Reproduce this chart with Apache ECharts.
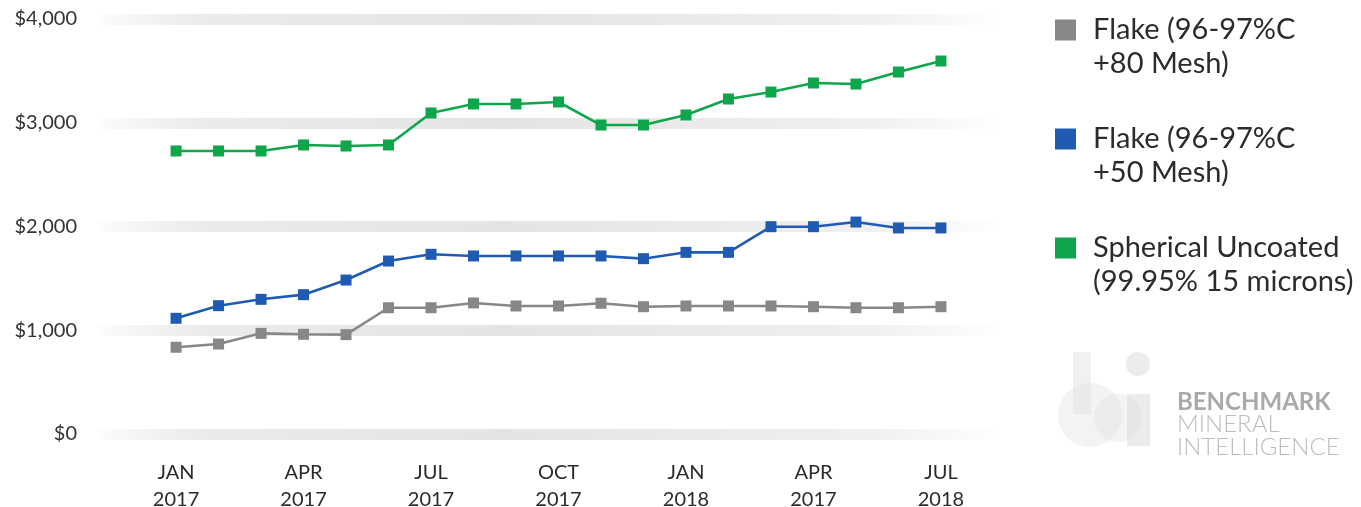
<!DOCTYPE html>
<html>
<head>
<meta charset="utf-8">
<script src="https://cdn.jsdelivr.net/npm/echarts@6/dist/echarts.min.js"></script>
<style>
html,body{margin:0;padding:0;background:#fff;}
#chart{width:1361px;height:507px;}
</style>
</head>
<body>
<div id="chart"></div>
<script>
const categories = ['2017-01','2017-02','2017-03','2017-04','2017-05','2017-06','2017-07','2017-08','2017-09','2017-10','2017-11','2017-12','2018-01','2018-02','2018-03','2018-04','2018-05','2018-06','2018-07'];
const tickLabels = {'2017-01':'JAN\n2017','2017-04':'APR\n2017','2017-07':'JUL\n2017','2017-10':'OCT\n2017','2018-01':'JAN\n2018','2018-04':'APR\n2017','2018-07':'JUL\n2018'};
const yTicks = [0, 1000, 2000, 3000, 4000];
const seriesNames = ['Flake (96-97%C\n+80 Mesh)', 'Flake (96-97%C\n+50 Mesh)', 'Spherical Uncoated\n(99.95% 15 microns)'];
const flake80 = [836, 867, 970, 961, 958, 1217, 1217, 1263, 1234, 1234, 1260, 1227, 1234, 1234, 1234, 1227, 1217, 1217, 1227];
const flake50 = [1115, 1237, 1298, 1343, 1484, 1667, 1732, 1716, 1716, 1716, 1716, 1690, 1751, 1751, 1998, 1998, 2043, 1986, 1986];
const spherical = [2728, 2728, 2728, 2786, 2776, 2786, 3094, 3181, 3181, 3200, 2978, 2978, 3075, 3229, 3296, 3383, 3373, 3489, 3595];
const colors = ['#878787', '#1f5bb3', '#0da64a'];

const chart = echarts.init(document.getElementById('chart'), null, {renderer: 'canvas'});
const font = 'Lato, "Open Sans", sans-serif';
const band = new echarts.graphic.LinearGradient(0, 0, 1, 0, [
  {offset: 0, color: 'rgba(232,232,232,0.1)'},
  {offset: 0.12, color: '#ebebeb'},
  {offset: 0.45, color: '#e4e4e4'},
  {offset: 0.85, color: '#f0f0f0'},
  {offset: 1, color: 'rgba(240,240,240,0)'}
]);
const yMin = yTicks[0], yMax = yTicks[yTicks.length - 1], yStep = yTicks[1] - yTicks[0];
const labelIdx = categories.map((c, i) => i).filter(i => tickLabels[categories[i]]);

const mkSeries = (name, data, c) => ({
  name: name, type: 'line', data: data.map((v, i) => [i, v]),
  symbol: 'rect', symbolSize: 11, color: c,
  lineStyle: {width: 2.6, color: c}, itemStyle: {color: c}, z: 3
});

chart.setOption({
  backgroundColor: '#fff',
  animation: false,
  textStyle: {fontFamily: font},
  grid: {left: 100, right: 361, top: 19, bottom: 73, containLabel: false, outerBoundsMode: 'none'},
  xAxis: {type: 'value', min: -1.79, max: 19.39,
    axisLine: {show: false}, axisTick: {show: false}, splitLine: {show: false},
    axisLabel: {customValues: labelIdx, showMinLabel: true, showMaxLabel: true, hideOverlap: false,
      margin: 25, color: '#2b2b2b', fontSize: 20, lineHeight: 27, fontFamily: font,
      formatter: (v) => tickLabels[categories[Math.round(v)]] || ''}},
  yAxis: {type: 'value', min: yMin, max: yMax, interval: yStep,
    axisLine: {show: false}, axisTick: {show: false},
    axisLabel: {margin: 23, color: '#333', fontSize: 20, fontFamily: font,
      formatter: (v) => '$' + v.toLocaleString('en-US')},
    splitLine: {show: true, lineStyle: {width: 11, color: band}}},
  legend: {
    orient: 'vertical', left: 1055, top: -21, padding: 0, itemWidth: 21, itemHeight: 21, itemGap: 7,
    icon: 'rect', data: seriesNames,
    formatter: (name) => '\n' + name,
    textStyle: {fontSize: 29, lineHeight: 34, color: '#2b2b2b', fontFamily: font, padding: [0, 0, 0, 12]}
  },
  series: [
    mkSeries(seriesNames[0], flake80, colors[0]),
    mkSeries(seriesNames[1], flake50, colors[1]),
    mkSeries(seriesNames[2], spherical, colors[2])
  ],
  graphic: [
    {type: 'group', left: 1058, top: 352, silent: true, children: [
      {type: 'circle', shape: {cx: 42, cy: 63, r: 32}, style: {fill: 'rgba(225,225,225,0.4)'}},
      {type: 'rect', shape: {x: 25, y: 0, width: 18, height: 62}, style: {fill: 'rgba(220,220,220,0.4)'}},
      {type: 'circle', shape: {cx: 70, cy: 66, r: 24}, style: {fill: 'rgba(225,225,225,0.4)'}},
      {type: 'rect', shape: {x: 79, y: 42, width: 23, height: 52}, style: {fill: 'rgba(218,218,218,0.5)'}},
      {type: 'circle', shape: {cx: 90, cy: 12, r: 12}, style: {fill: 'rgba(218,218,218,0.5)'}}
    ]},
    {type: 'text', x: 1177, y: 402, silent: true,
      style: {text: 'BENCHMARK', font: 'bold 24px ' + font, fill: '#a9a9a9', verticalAlign: 'middle'}},
    {type: 'text', x: 1177, y: 424, silent: true,
      style: {text: 'MINERAL', font: '300 24px ' + font, fill: '#bdbdbd', verticalAlign: 'middle'}},
    {type: 'text', x: 1177, y: 447, silent: true,
      style: {text: 'INTELLIGENCE', font: '300 24px ' + font, fill: '#bdbdbd', verticalAlign: 'middle'}}
  ]
});
</script>
</body>
</html>
